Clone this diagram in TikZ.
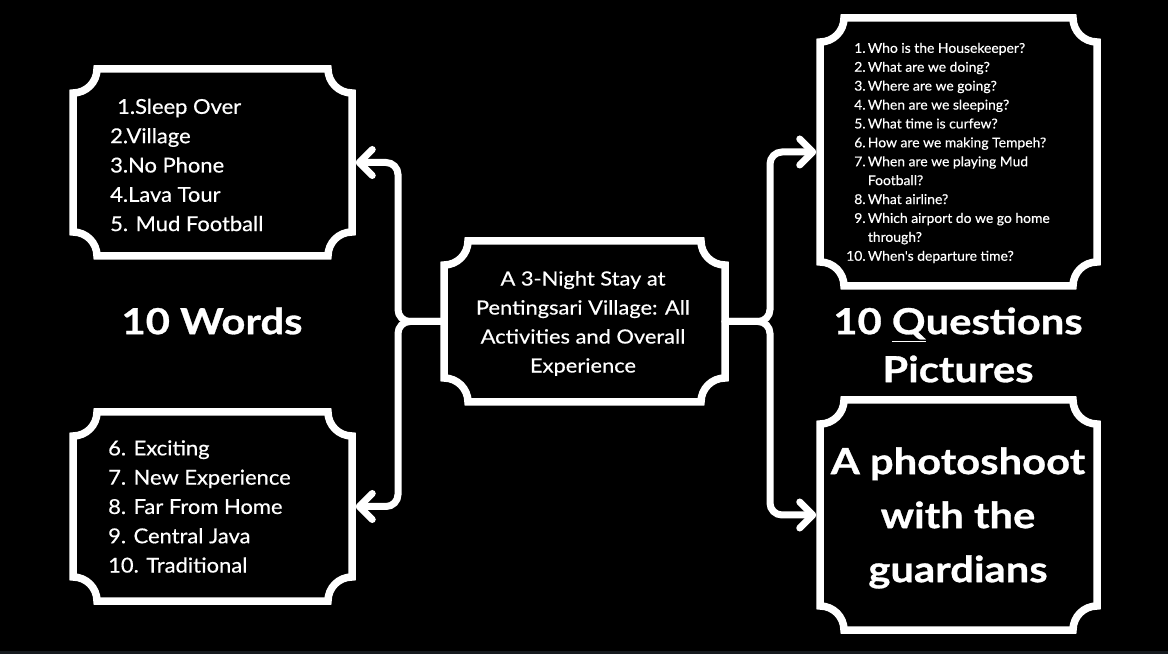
\documentclass[tikz,border=0pt]{standalone}
\usepackage{fontspec}
\setmainfont{Lato}
\newfontfamily\bodyfont[FakeStretch=1.07,FakeBold=0.5]{Lato}
\newfontfamily\midfont[FakeStretch=1.12,FakeBold=0.5]{Lato}
\newfontfamily\smallfont[FakeStretch=1.03,FakeBold=0.4]{Lato}
\newfontfamily\headfont[FakeStretch=1.16,FakeBold=0.8]{Lato Bold}
\usetikzlibrary{arrows.meta,calc}
\definecolor{strip}{HTML}{161A1E}
\tikzset{
  frame/.style={draw=white, line width=7.5pt, line join=miter},
  slot/.style={inner sep=0pt, outer sep=0pt, draw=none},
  conn/.style={draw=white, line width=7pt, rounded corners=12pt, line cap=round,
    -{Straight Barb[length=13pt,width=26pt,round]}},
  body/.style={text=white, font=\bodyfont\fontsize{20.5}{29.3}\selectfont, align=left, inner sep=0pt},
  mid/.style={text=white, font=\midfont\fontsize{19.5}{29}\selectfont, align=center, inner sep=0pt},
  small/.style={text=white, font=\smallfont\fontsize{13.5}{18.9}\selectfont, inner sep=0pt},
  title/.style={text=white, font=\headfont\fontsize{36}{48}\selectfont, align=center, inner sep=0pt},
  big/.style={text=white, font=\headfont\fontsize{36}{54}\selectfont, align=center, inner sep=0pt}
}
\newcommand\ticketframe[2]{%
  \draw[frame] let \p1=(#1.north west), \p2=(#1.south east) in
   (\x1+#2,\y1) -- (\x2-#2,\y1) arc[start angle=180,end angle=270,radius=#2]
   -- (\x2,\y2+#2) arc[start angle=90,end angle=180,radius=#2]
   -- (\x1+#2,\y2) arc[start angle=0,end angle=90,radius=#2]
   -- (\x1,\y1-#2) arc[start angle=270,end angle=360,radius=#2] -- cycle;}
\begin{document}
\begin{tikzpicture}[x=1pt,y=1pt]
\useasboundingbox (0,0) rectangle (1168,654);
\fill[black] (0,0) rectangle (1168,654);
\fill[strip] (0,0) rectangle (1168,3);

% box slots
\node[slot, minimum width=279pt, minimum height=187pt] (A) at (212.5,491.5) {};
\node[slot, minimum width=279pt, minimum height=189pt] (B) at (212.5,147.5) {};
\node[slot, minimum width=281pt, minimum height=161pt] (C) at (584.5,332.5) {};
\node[slot, minimum width=277pt, minimum height=268pt] (D) at (958.5,502) {};
\node[slot, minimum width=277pt, minimum height=230pt] (E) at (958.5,139) {};

\ticketframe{A}{24pt}
\ticketframe{B}{24pt}
\ticketframe{C}{24pt}
\ticketframe{D}{24pt}
\ticketframe{E}{24pt}

% connectors
\coordinate (jl) at (398,0);
\coordinate (jr) at (770,0);
\draw[conn] (C.west) -| (jl |- A.east) -- ([xshift=3.75pt]A.east);
\draw[conn] (C.west) -| (jl |- B.east) -- ([xshift=3.75pt]B.east);
\draw[conn] (C.east) -| (jr |- D.west) -- ([xshift=-3.75pt]D.west);
\draw[conn] (C.east) -| (jr |- E.west) -- ([xshift=-3.75pt]E.west);

% texts
\node[body, anchor=west] (Atext) at (110,489)
  {\hspace*{7pt}1.Sleep Over\\2.Village\\3.No Phone\\4.Lava Tour\\5. Mud Football};
\node[body, anchor=west] (Btext) at (108,147.5)
  {6. Exciting\\7. New Experience\\8. Far From Home\\9. Central Java\\10. Traditional};
\node[mid] (Ctext) at (583,330.5)
  {A 3-Night Stay at\\Pentingsari Village: All\\Activities and Overall\\Experience};
\node[small, anchor=west] (Dtext) at (846,501) {%
  \begin{tabular}{@{}r@{\,}l@{}}
  1. & Who is the Housekeeper?\\
  2. & What are we doing?\\
  3. & Where are we going?\\
  4. & When are we sleeping?\\
  5. & What time is curfew?\\
  6. & How are we making Tempeh?\\
  7. & When are we playing Mud\\
     & Football?\\
  8. & What airline?\\
  9. & Which airport do we go home\\
     & through?\\
  10. & When's departure time?
  \end{tabular}};
\node[title] (words) at (212,333) {10 Words};
\node[title] (quest) at (958,309) {10 \underline{Q}uestions\\Pictures};
\node[big] (Etext) at (958,136) {A photoshoot\\with the\\guardians};
\end{tikzpicture}
\end{document}
